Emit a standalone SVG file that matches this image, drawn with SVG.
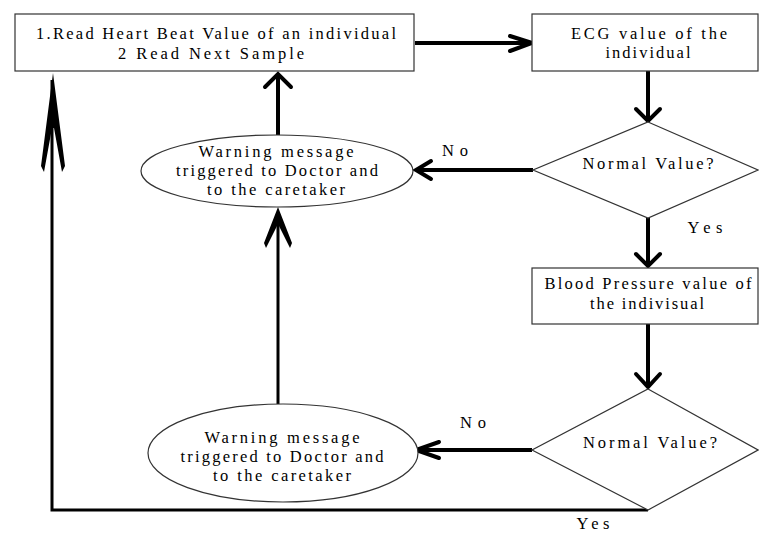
<svg xmlns="http://www.w3.org/2000/svg" width="759" height="534" viewBox="0 0 759 534">
<style>
.box{fill:#fff;stroke:#333;stroke-width:1.2}
.t{font-family:"Liberation Serif","Times New Roman",serif;font-size:16.5px;fill:#000;text-anchor:middle}
.ln{fill:none;stroke:#000;stroke-width:4}
.thin{fill:none;stroke:#000;stroke-width:3}
.hd{fill:none;stroke:#000;stroke-width:4;stroke-linecap:round;stroke-linejoin:miter}
.fh{fill:#000;stroke:none}
</style>
<rect width="759" height="534" fill="#fff"/>
<g id="connectors">
  <line class="ln" x1="415" y1="43" x2="531" y2="43"/>
  <polyline class="hd" points="510,36 532,43 510,51"/>
  <line class="ln" x1="648" y1="71" x2="648" y2="120"/>
  <polyline class="hd" points="636,109 648,121 660,109"/>
  <line class="ln" x1="533" y1="170" x2="417" y2="170"/>
  <polyline class="hd" points="431,161 416,170 431,179"/>
  <line class="ln" x1="648" y1="218" x2="648" y2="266"/>
  <polyline class="hd" points="636,254 648,266 660,254"/>
  <line class="ln" x1="648" y1="324" x2="648" y2="387"/>
  <polyline class="hd" points="636,374 648,387 660,374"/>
  <line class="ln" x1="532" y1="450" x2="417" y2="450"/>
  <polyline class="hd" points="439,442 416,450 439,458"/>
  <line class="ln" x1="278" y1="135" x2="278" y2="75"/>
  <polyline class="hd" points="265,87 278,74 291,87"/>
  <line class="thin" x1="278" y1="404" x2="278" y2="215"/>
  <path class="fh" d="M278,207 L292,243 L290,248 L279,226 L277,226 L266,248 L264,243 Z"/>
  <polyline class="thin" points="648,510 52,510 52,80"/>
  <path class="fh" d="M53,73 L65,166 L62,172 L54,128 L52,128 L44,172 L41,166 Z"/>
</g>
<g id="n-read">
  <rect class="box" x="15" y="14" width="399" height="57"/>
  <text class="t" x="216" y="39" textLength="360" lengthAdjust="spacing">1.Read Heart Beat Value of an individual</text>
  <text class="t" x="211" y="59" textLength="186" lengthAdjust="spacing">2 Read Next Sample</text>
</g>
<g id="n-ecg">
  <rect class="box" x="532" y="14" width="226" height="57"/>
  <text class="t" x="649" y="39" textLength="156" lengthAdjust="spacing">ECG  value of the</text>
  <text class="t" x="648" y="58" textLength="85" lengthAdjust="spacing">individual</text>
</g>
<g id="n-normal1">
  <polygon class="box" points="648,122 758,170 648,218 533,170"/>
  <text class="t" x="648" y="169" textLength="131" lengthAdjust="spacing">Normal Value?</text>
</g>
<g id="n-warn1">
  <ellipse class="box" cx="277" cy="171" rx="136" ry="36"/>
  <text class="t" x="276" y="157" textLength="155" lengthAdjust="spacing">Warning message</text>
  <text class="t" x="277" y="176" textLength="202" lengthAdjust="spacing">triggered to Doctor and</text>
  <text class="t" x="276" y="195" textLength="138" lengthAdjust="spacing">to the caretaker</text>
</g>
<g id="n-bp">
  <rect class="box" x="532" y="268" width="226" height="56"/>
  <text class="t" x="648" y="289" textLength="207" lengthAdjust="spacing">Blood Pressure value of</text>
  <text class="t" x="647" y="309" textLength="114" lengthAdjust="spacing">the indivisual</text>
</g>
<g id="n-normal2">
  <polygon class="box" points="648,389 758,450 648,510 532,450"/>
  <text class="t" x="650" y="448" textLength="134" lengthAdjust="spacing">Normal Value?</text>
</g>
<g id="n-warn2">
  <ellipse class="box" cx="283" cy="453" rx="135" ry="49"/>
  <text class="t" x="282" y="443" textLength="155" lengthAdjust="spacing">Warning message</text>
  <text class="t" x="282" y="462" textLength="203" lengthAdjust="spacing">triggered to Doctor and</text>
  <text class="t" x="282" y="481" textLength="138" lengthAdjust="spacing">to the caretaker</text>
</g>
<g id="labels">
  <text class="t" x="455" y="156" textLength="26" lengthAdjust="spacing">No</text>
  <text class="t" x="705" y="233" textLength="35" lengthAdjust="spacing">Yes</text>
  <text class="t" x="473" y="428" textLength="26" lengthAdjust="spacing">No</text>
  <text class="t" x="593" y="529" textLength="33" lengthAdjust="spacing">Yes</text>
</g>
</svg>
